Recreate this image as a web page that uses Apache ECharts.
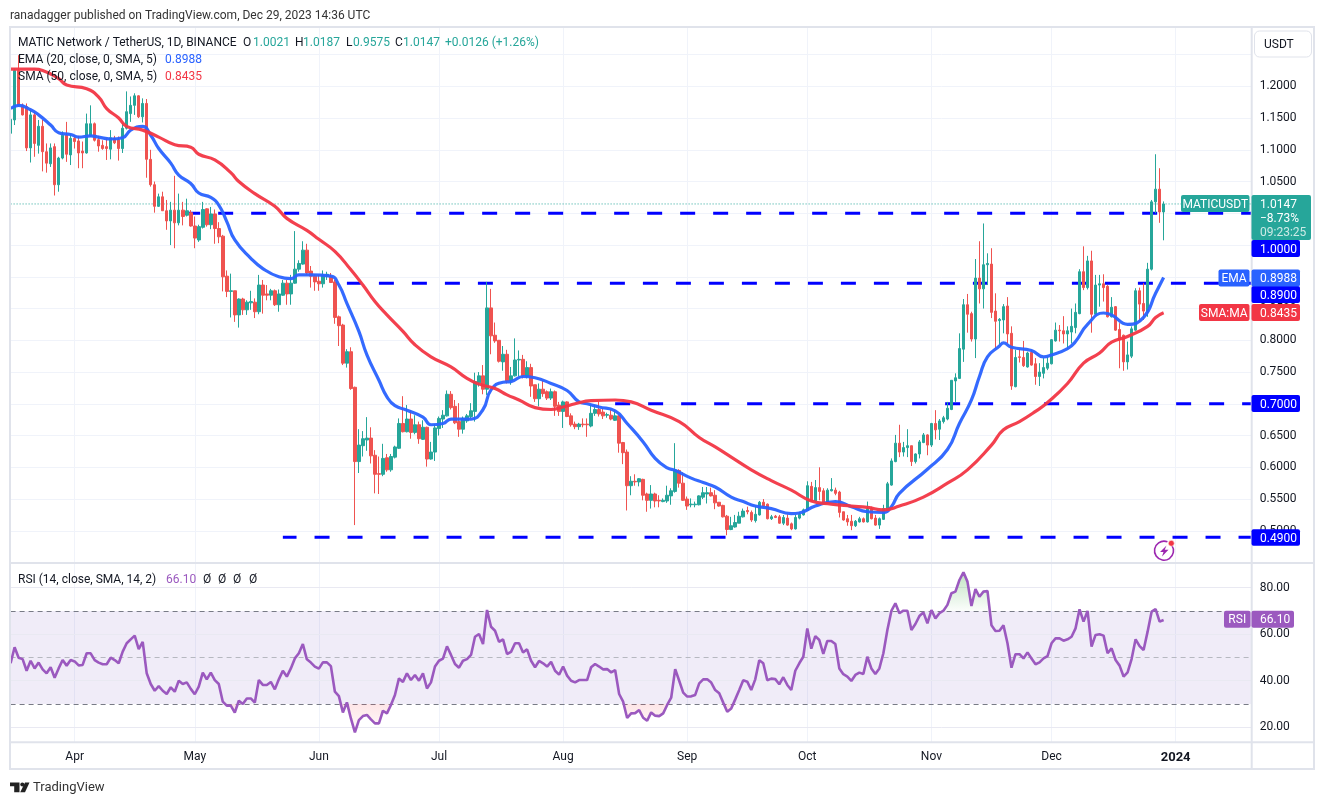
<!DOCTYPE html>
<html><head><meta charset="utf-8">
<style>html,body{margin:0;padding:0;background:#fff}#c{width:1325px;height:805px}</style>
<script src="https://cdn.jsdelivr.net/npm/echarts@6/dist/echarts.min.js"></script>
</head><body><div id="c"></div>
<script>
// Candles are [open, close, low, high]
const candlesA=[[1.126,1.148,1.100,1.157],[1.147,1.225,1.139,1.228],[1.225,1.170,1.168,1.249],[1.170,1.155,1.154,1.173],[1.168,1.103,1.098,1.173],[1.103,1.155,1.080,1.163],[1.155,1.110,1.089,1.160],[1.107,1.137,1.094,1.147],[1.137,1.097,1.066,1.147],[1.097,1.079,1.064,1.110],[1.078,1.103,1.073,1.110],[1.105,1.045,1.028,1.110],[1.045,1.087,1.034,1.089],[1.087,1.123,1.085,1.129],[1.123,1.093,1.081,1.144],[1.092,1.118,1.076,1.125],[1.118,1.113,1.102,1.123],[1.114,1.095,1.071,1.122],[1.098,1.095,1.071,1.113],[1.095,1.141,1.094,1.157],[1.122,1.141,1.120,1.170],[1.141,1.115,1.113,1.143],[1.116,1.106,1.097,1.122],[1.107,1.102,1.100,1.115],[1.105,1.102,1.084,1.118],[1.101,1.119,1.085,1.131],[1.118,1.111,1.109,1.122],[1.116,1.102,1.083,1.121],[1.102,1.134,1.095,1.142],[1.134,1.160,1.132,1.192],[1.157,1.170,1.144,1.184],[1.170,1.185,1.155,1.189],[1.185,1.152,1.150,1.186],[1.152,1.173,1.143,1.181],[1.173,1.085,1.056,1.180],[1.085,1.045,1.042,1.100],[1.045,1.011,1.001,1.050],[1.011,1.026,1.010,1.031],[1.026,1.004,1.004,1.034],[1.004,0.988,0.974,1.021],[0.988,1.005,0.950,1.018],[1.005,0.985,0.945,1.059],[0.985,1.005,0.981,1.031],[1.005,0.995,0.981,1.018],[0.997,1.004,0.995,1.023],[1.001,0.980,0.979,1.005],[0.980,0.961,0.945,0.995],[0.958,0.979,0.955,0.982],[0.978,1.006,0.976,1.018]];
const candlesB=[[1.007,0.982,0.979,1.008],[0.982,0.999,0.975,1.010],[0.999,0.976,0.952,1.006],[0.976,0.963,0.953,0.986],[0.964,0.900,0.877,0.966],[0.901,0.877,0.868,0.910],[0.877,0.878,0.836,0.905],[0.878,0.840,0.829,0.878],[0.840,0.865,0.820,0.866],[0.865,0.848,0.840,0.867],[0.848,0.860,0.840,0.863],[0.859,0.861,0.848,0.878],[0.860,0.845,0.835,0.866],[0.845,0.887,0.841,0.903],[0.887,0.871,0.842,0.895],[0.873,0.871,0.863,0.887],[0.871,0.878,0.863,0.881],[0.878,0.856,0.854,0.880],[0.856,0.873,0.845,0.880],[0.871,0.890,0.870,0.895],[0.890,0.873,0.856,0.895],[0.873,0.890,0.856,0.903],[0.890,0.912,0.889,0.972],[0.912,0.921,0.908,0.926],[0.920,0.942,0.919,0.956],[0.942,0.906,0.903,0.952],[0.909,0.901,0.883,0.917],[0.901,0.892,0.878,0.904],[0.893,0.889,0.878,0.903],[0.889,0.903,0.883,0.910],[0.901,0.904,0.895,0.908],[0.900,0.891,0.891,0.906],[0.892,0.836,0.826,0.895],[0.837,0.823,0.791,0.839],[0.824,0.764,0.761,0.826],[0.764,0.782,0.757,0.786],[0.782,0.724,0.722,0.789],[0.726,0.609,0.509,0.727],[0.609,0.635,0.591,0.660],[0.634,0.645,0.617,0.657],[0.643,0.646,0.626,0.679],[0.646,0.618,0.606,0.663],[0.619,0.589,0.559,0.627],[0.590,0.589,0.558,0.617],[0.589,0.614,0.586,0.637],[0.615,0.596,0.593,0.621],[0.596,0.617,0.593,0.621],[0.616,0.632,0.614,0.634],[0.630,0.669,0.629,0.677]];
const candlesC=[[0.669,0.656,0.655,0.712],[0.656,0.676,0.655,0.698],[0.676,0.655,0.645,0.690],[0.655,0.667,0.652,0.682],[0.667,0.645,0.637,0.672],[0.644,0.663,0.643,0.674],[0.663,0.613,0.601,0.664],[0.613,0.624,0.612,0.640],[0.624,0.662,0.610,0.668],[0.661,0.677,0.650,0.680],[0.676,0.682,0.662,0.690],[0.681,0.715,0.680,0.721],[0.715,0.694,0.691,0.720],[0.696,0.670,0.668,0.706],[0.672,0.660,0.648,0.701],[0.660,0.677,0.653,0.680],[0.673,0.681,0.670,0.684],[0.680,0.689,0.677,0.701],[0.688,0.735,0.672,0.749],[0.733,0.744,0.727,0.750],[0.744,0.723,0.715,0.761],[0.723,0.851,0.714,0.892],[0.851,0.807,0.778,0.881],[0.808,0.799,0.796,0.828],[0.800,0.767,0.765,0.800],[0.766,0.778,0.752,0.791],[0.778,0.736,0.732,0.785],[0.736,0.744,0.730,0.758],[0.744,0.769,0.743,0.803],[0.769,0.770,0.743,0.784],[0.770,0.744,0.740,0.777],[0.743,0.757,0.740,0.767],[0.757,0.728,0.711,0.763],[0.730,0.708,0.703,0.730],[0.708,0.723,0.696,0.732],[0.723,0.716,0.711,0.737],[0.719,0.709,0.706,0.721],[0.709,0.719,0.706,0.724],[0.719,0.696,0.681,0.721],[0.698,0.688,0.681,0.703]];
const candlesD=[[0.688,0.703,0.662,0.705],[0.703,0.680,0.679,0.704],[0.681,0.667,0.664,0.685],[0.668,0.664,0.660,0.672],[0.664,0.668,0.659,0.670],[0.668,0.667,0.663,0.677],[0.668,0.667,0.648,0.677],[0.665,0.685,0.663,0.698],[0.685,0.691,0.681,0.698],[0.691,0.684,0.680,0.703],[0.687,0.681,0.676,0.693],[0.682,0.683,0.678,0.686],[0.682,0.676,0.674,0.691],[0.674,0.681,0.673,0.690],[0.681,0.638,0.623,0.682],[0.639,0.623,0.605,0.640],[0.624,0.571,0.532,0.628],[0.571,0.578,0.556,0.586],[0.578,0.577,0.571,0.589],[0.577,0.582,0.570,0.583],[0.581,0.556,0.548,0.582],[0.558,0.548,0.530,0.560],[0.548,0.558,0.535,0.572],[0.558,0.547,0.537,0.560],[0.548,0.547,0.537,0.556],[0.546,0.548,0.545,0.551],[0.547,0.556,0.544,0.571],[0.555,0.563,0.541,0.567],[0.562,0.596,0.560,0.638],[0.595,0.575,0.568,0.597],[0.575,0.548,0.547,0.592],[0.550,0.539,0.533,0.554],[0.541,0.542,0.537,0.551],[0.541,0.542,0.537,0.546],[0.541,0.555,0.540,0.556],[0.553,0.560,0.550,0.569],[0.558,0.560,0.543,0.569],[0.560,0.555,0.554,0.568],[0.556,0.544,0.534,0.564],[0.545,0.539,0.538,0.545]];
const candlesE=[[0.540,0.522,0.521,0.541],[0.523,0.502,0.493,0.525],[0.502,0.508,0.501,0.522],[0.506,0.513,0.505,0.525],[0.512,0.523,0.512,0.530],[0.522,0.531,0.521,0.535],[0.532,0.530,0.526,0.538],[0.529,0.517,0.514,0.532],[0.516,0.526,0.513,0.538],[0.525,0.545,0.524,0.547],[0.545,0.539,0.537,0.550],[0.542,0.519,0.518,0.543],[0.519,0.522,0.517,0.525],[0.523,0.521,0.520,0.525],[0.522,0.512,0.511,0.525],[0.512,0.521,0.509,0.525],[0.520,0.509,0.508,0.526],[0.511,0.503,0.501,0.513],[0.503,0.521,0.502,0.525],[0.520,0.526,0.518,0.530],[0.525,0.533,0.524,0.535],[0.532,0.571,0.531,0.578],[0.570,0.547,0.546,0.577],[0.547,0.568,0.546,0.580],[0.568,0.562,0.548,0.600],[0.563,0.545,0.543,0.567],[0.545,0.564,0.543,0.567],[0.563,0.565,0.562,0.583],[0.564,0.559,0.556,0.568],[0.561,0.529,0.521,0.563],[0.530,0.517,0.516,0.530],[0.519,0.514,0.508,0.525],[0.515,0.508,0.501,0.525],[0.508,0.515,0.506,0.517],[0.514,0.519,0.513,0.522],[0.519,0.514,0.513,0.521],[0.514,0.535,0.513,0.546],[0.535,0.519,0.518,0.538],[0.520,0.509,0.508,0.525],[0.509,0.519,0.503,0.521],[0.518,0.535,0.517,0.541],[0.534,0.574,0.533,0.577],[0.572,0.610,0.571,0.614],[0.609,0.638,0.608,0.651],[0.638,0.624,0.616,0.667]];
const candlesF=[[0.624,0.631,0.617,0.640],[0.631,0.634,0.616,0.660],[0.634,0.609,0.602,0.634],[0.609,0.621,0.606,0.622],[0.621,0.640,0.614,0.643],[0.639,0.651,0.638,0.654],[0.651,0.635,0.619,0.652],[0.635,0.669,0.632,0.670],[0.669,0.659,0.644,0.690],[0.660,0.673,0.643,0.676],[0.672,0.678,0.669,0.681],[0.676,0.693,0.674,0.703],[0.691,0.737,0.690,0.737],[0.736,0.741,0.703,0.748],[0.740,0.787,0.739,0.811],[0.786,0.856,0.766,0.865],[0.856,0.841,0.812,0.873],[0.842,0.802,0.798,0.845],[0.802,0.898,0.772,0.928],[0.898,0.881,0.858,0.956],[0.881,0.919,0.850,0.984],[0.919,0.921,0.887,0.937],[0.920,0.844,0.835,0.945],[0.846,0.830,0.787,0.874],[0.831,0.833,0.793,0.835],[0.832,0.853,0.811,0.857],[0.854,0.810,0.795,0.868],[0.811,0.728,0.722,0.822],[0.727,0.773,0.726,0.785],[0.774,0.773,0.765,0.786],[0.773,0.760,0.758,0.799],[0.758,0.780,0.757,0.782],[0.781,0.761,0.760,0.785],[0.763,0.743,0.730,0.772],[0.743,0.750,0.728,0.764],[0.748,0.757,0.740,0.772],[0.756,0.764,0.753,0.774],[0.763,0.801,0.762,0.802],[0.799,0.816,0.798,0.828],[0.816,0.815,0.798,0.824],[0.815,0.810,0.795,0.838],[0.810,0.815,0.786,0.822],[0.813,0.822,0.795,0.850],[0.820,0.844,0.811,0.858],[0.842,0.908,0.841,0.912],[0.908,0.883,0.879,0.948],[0.883,0.925,0.880,0.933],[0.925,0.841,0.812,0.941],[0.841,0.887,0.840,0.903],[0.887,0.889,0.853,0.903],[0.889,0.883,0.861,0.904],[0.885,0.837,0.836,0.887],[0.837,0.852,0.836,0.868],[0.853,0.816,0.815,0.854],[0.817,0.801,0.756,0.827],[0.808,0.766,0.752,0.809],[0.766,0.777,0.754,0.798],[0.775,0.818,0.772,0.822],[0.816,0.878,0.815,0.882],[0.878,0.857,0.829,0.883],[0.858,0.846,0.832,0.890],[0.845,0.912,0.837,0.922],[0.912,1.018,0.910,1.021],[1.018,1.038,1.000,1.093],[1.038,1.0021,0.985,1.071],[1.0021,1.0147,0.9575,1.0187]];

// Moving averages as [bar number, value]
const emaPoints=[[0,1.165],[2,1.170],[5,1.163],[7,1.155],[10,1.139],[12,1.127],[15,1.124],[17,1.120],[20,1.122],[22,1.120],[25,1.117],[28,1.119],[30,1.131],[33,1.137],[35,1.123],[37,1.102],[40,1.079],[42,1.060],[45,1.047],[47,1.032],[50,1.025],[52,1.013],[54,0.987],[56,0.958],[60,0.929],[63,0.913],[67,0.900],[70,0.897],[72,0.903],[75,0.903],[80,0.901],[82,0.887],[84,0.858],[87,0.814],[89,0.777],[92,0.737],[94,0.711],[96,0.697],[99,0.690],[103,0.679],[105,0.667],[108,0.669],[110,0.676],[115,0.676],[118,0.691],[120,0.722],[123,0.734],[125,0.735],[128,0.743],[131,0.741],[135,0.732],[139,0.721],[142,0.703],[144,0.700],[147,0.695],[151,0.689],[154,0.669],[158,0.640],[161,0.614],[164,0.599],[166,0.595],[170,0.583],[173,0.576],[176,0.569],[180,0.553],[183,0.546],[186,0.539],[190,0.535],[195,0.527],[197,0.528],[201,0.539],[206,0.546],[210,0.538],[214,0.530],[218,0.529],[220,0.538],[222,0.559],[229,0.597],[234,0.628],[237,0.669],[240,0.706],[242,0.743],[244,0.774],[247,0.791],[248,0.796],[250,0.789],[255,0.784],[258,0.774],[260,0.777],[264,0.787],[266,0.798],[269,0.825],[273,0.843],[275,0.840],[279,0.825],[283,0.836],[286,0.874],[288,0.8988]];
const smaPoints=[[0,1.227],[6,1.227],[8,1.225],[12,1.212],[14,1.202],[19,1.196],[22,1.183],[24,1.165],[27,1.150],[29,1.137],[33,1.131],[37,1.120],[41,1.108],[45,1.104],[47,1.093],[51,1.084],[55,1.064],[57,1.050],[61,1.031],[66,1.011],[69,0.992],[74,0.973],[77,0.959],[81,0.940],[85,0.911],[88,0.887],[91,0.861],[94,0.840],[98,0.814],[101,0.793],[105,0.774],[110,0.758],[114,0.740],[117,0.731],[121,0.724],[124,0.714],[127,0.706],[131,0.694],[135,0.691],[138,0.695],[141,0.700],[145,0.705],[151,0.706],[155,0.703],[160,0.690],[167,0.672],[172,0.647],[176,0.632],[180,0.616],[185,0.596],[190,0.579],[195,0.564],[200,0.547],[205,0.542],[210,0.539],[214,0.537],[218,0.533],[222,0.539],[228,0.553],[234,0.575],[239,0.596],[245,0.635],[248,0.659],[252,0.672],[256,0.688],[259,0.702],[264,0.732],[268,0.764],[272,0.780],[275,0.797],[279,0.806],[284,0.822],[286,0.836],[288,0.8435]];
const rsiA=[47.5,54.4,49.9,49.3,44.3,48.6,45.3,47.8,44.9,43.2,45.8,41.3,45.3,48.9,46.5,48.9,48.3,46.6,46.8,51.8,51.8,48.9,47.8,47.1,47.1,49.9,48.9,47.5,52.5,56.1,57.8,59.4,53.6,56.7,43.2,38.6,35.7,37.7,35.7,34.3,37.2,35.3,40.0,38.6,39.3,36.5,34.2,37.5,43.5,40.6,43.5,40.3,38.6,31.0,29.3,29.3,26.3,31.4,30.0,32.4,32.4,30.6,40.3,38.2,38.2,39.5,36.3,40.6,44.3,41.8,45.3,49.6,51.8,55.8,49.2,47.8,46.1,45.2,47.9,47.9,46.3,35.3,33.4,26.4,30.7,23.8,17.8,23.1,24.8,25.3,23.4,21.7,21.7,27.1,26.0,29.6,33.9];
const rsiB=[41.0,39.5,43.2,40.3,42.5,40.0,43.2,36.7,39.3,46.1,48.6,49.5,54.8,51.1,47.2,45.6,48.6,49.3,51.1,58.9,60.1,55.8,70.4,63.2,61.5,56.7,57.8,51.5,52.4,56.1,56.1,52.1,53.5,48.6,45.8,48.5,47.5,46.1,48.1,44.3,42.6,46.1,42.2,40.0,39.3,40.3,40.3,40.3,45.8,47.2,46.1,44.9,45.0,43.6,44.6,34.3,31.0,24.0,26.0,26.1,27.4,24.1,22.8,26.4,25.0,24.8,26.0,29.6,32.7,45.0,40.0,34.9,33.2,33.3,33.9,38.9,40.6,40.6,39.2,36.0,34.6,30.6,26.7,28.1,32.0,36.0,40.2,39.6,36.0,40.6,48.8,47.5,40.2,40.9,40.7,38.5];
const rsiC=[41.5,38.2,36.0,44.3,47.5,50.3,62.5,53.8,59.2,57.5,51.5,57.1,57.1,55.8,45.3,42.8,41.8,39.9,42.5,43.5,42.9,50.3,45.3,42.9,45.3,51.8,61.8,70.0,73.3,69.0,70.1,70.1,61.8,64.4,67.8,69.4,64.7,70.4,66.8,69.0,70.1,72.6,77.6,78.3,83.3,86.6,82.6,72.1,79.4,76.1,78.3,78.6,63.8,61.4,61.5,63.8,56.1,45.6,51.4,51.4,49.6,52.2,49.6,47.1,47.9,49.6,50.6,56.1,58.2,58.2,57.2,57.8,58.9,62.5,70.7,65.4,70.0,54.7,59.7,60.0,59.4,51.8,53.9,48.9,46.5,41.8,43.6,49.3,57.8,54.9,53.2,61.1,69.7,70.8,65.4,66.1];

const levelValues=[1.0,0.89,0.70,0.49];
const levelStartBars=[44,84,151,68];
const levelDashShift=[1.6,1,0,1.3];
const lastClose=1.0147;
const monthDates=['2023-04-01','2023-05-01','2023-06-01','2023-07-01','2023-08-01','2023-09-01','2023-10-01','2023-11-01','2023-12-01','2024-01-01'];
const monthLabels=['Apr','May','Jun','Jul','Aug','Sep','Oct','Nov','Dec','2024'];
const rsiTicks=[20,40,60,80];
const rsiBands=[70,50,30];

const candles=[...candlesA,...candlesB,...candlesC,...candlesD,...candlesE,...candlesF];
const rsi=[...rsiA,...rsiB,...rsiC];
const dates=[];
for(let i=0;i<311;i++){dates.push(new Date(Date.UTC(2023,2,16+i)).toISOString().slice(0,10));}
const FONT='Roboto,sans-serif';
const INK='#131722';
const GRID='#f0f3fa';
const FRAME='#e0e3eb';
const isMonth=(i,v)=>monthDates.includes(v);
const pick=p=>p.map(([i,v])=>[dates[i],v]);

function T(x,y,text,fill,size,extra){return Object.assign({type:'text',z:120,x:x,y:y+1,style:{text:text,fill:fill,font:(size||12)+'px '+FONT,textVerticalAlign:'middle'}},extra||{});}
function R(x,y,w,h,fill,r){return {type:'rect',z:110,shape:{x:x,y:y,width:w,height:h,r:r===undefined?2:r},style:{fill:fill}};}
function tagLeft(x,y,w,h,fill,text){return [R(x,y,w,h,fill),{type:'text',z:120,x:x+w/2,y:y+h/2+1,style:{text:text,fill:'#fff',font:'12px '+FONT,textAlign:'center',textVerticalAlign:'middle'}}];}
function tagVal(y,h,fill,text,w){return [R(1251.5,y,w||48.5,h,fill),T(1260,y+h/2,text,'#fff',12)];}

const UP='#26a69a',DN='#ef5350',BLUE='#0000ff',EMA='#2962ff',SMA='#f23645',PUR='#9b59bf';
const graphics=[
 {type:'rect',z:99,shape:{x:0,y:18,width:1325,height:8.5},style:{fill:'#fff'}},
 {type:'rect',z:100,shape:{x:10,y:27,width:1304,height:742},style:{fill:'none',stroke:FRAME,lineWidth:2}},
 {type:'line',z:100,shape:{x1:1251.7,y1:27,x2:1251.7,y2:769},style:{stroke:FRAME,lineWidth:2}},
 {type:'line',z:100,shape:{x1:10,y1:563,x2:1314,y2:563},style:{stroke:FRAME,lineWidth:2}},
 {type:'line',z:100,shape:{x1:10,y1:742.3,x2:1314,y2:742.3},style:{stroke:FRAME,lineWidth:2}},
 T(10,15,'ranadagger published on TradingView.com, Dec 29, 2023 14:36 UTC','#333',12),
 T(18,42,'MATIC Network / TetherUS, 1D, BINANCE',INK,12),
 T(243,42,'O',INK,12),T(253,42,'1.0021',UP,12),
 T(295,42,'H',INK,12),T(303,42,'1.0187',UP,12),
 T(346,42,'L',INK,12),T(353,42,'0.9575',UP,12),
 T(395,42,'C',INK,12),T(403,42,'1.0147',UP,12),
 T(445,42,'+0.0126 (+1.26%)',UP,12),
 T(18,59,'EMA (20, close, 0, SMA, 5)',INK,12),T(165,59,'0.8988',EMA,12),
 T(18,76,'SMA (50, close, 0, SMA, 5)',INK,12),T(165,76,'0.8435',SMA,12),
 T(18,579,'RSI (14, close, SMA, 14, 2)',INK,12),T(166,579,'66.10',PUR,12),
 T(203,579,'Ø',INK,12),T(218,579,'Ø',INK,12),T(233,579,'Ø',INK,12),T(249,579,'Ø',INK,12),
 {type:'rect',z:110,shape:{x:1254.5,y:31,width:57,height:26,r:5},style:{fill:'#fff',stroke:FRAME,lineWidth:1}},
 T(1264,44,'USDT',INK,12),
 ...tagLeft(1181,195,68.5,17,UP,'MATICUSDT'),
 R(1251.5,195,59.5,45,UP),
 T(1260,203.5,'1.0147','#fff',12),T(1260,217.5,'−8.73%','#fff',12),T(1260,231.5,'09:23:25','#cdeae6',12),
 ...tagVal(240,17,BLUE,'1.0000'),
 ...tagVal(286,17,BLUE,'0.8900'),
 ...tagLeft(1218.5,269.5,31,17,EMA,'EMA'),
 ...tagVal(269.5,17,EMA,'0.8988'),
 ...tagLeft(1199,304,50.5,17,SMA,'SMA:MA'),
 ...tagVal(304,17,SMA,'0.8435'),
 ...tagVal(395,17,BLUE,'0.7000'),
 ...tagVal(529.3,16.5,BLUE,'0.4900'),
 ...tagLeft(1224,610.7,26.5,17,PUR,'RSI'),
 ...tagVal(610.7,17,PUR,'66.10',42.5),
 // alert icon
 {type:'arc',z:120,shape:{cx:1164,cy:550.7,r:9.5,startAngle:-0.6,endAngle:-1.2,clockwise:true},style:{fill:'none',stroke:'#9c27b0',lineWidth:1.6}},
 {type:'polygon',z:120,shape:{points:[[1166.5,545.5],[1160,552],[1163.5,552],[1162,556.5],[1168.5,549.7],[1164.7,549.7]]},style:{fill:'#9c27b0'}},
 {type:'circle',z:121,shape:{cx:1171.3,cy:543.3,r:3},style:{fill:'#f23645',stroke:'#fff',lineWidth:0.6}},
 // footer logo
 {type:'polygon',z:120,shape:{points:[[10,782.5],[19.5,782.5],[19.5,792.3],[14.2,792.3],[14.2,786.3],[10,786.3]]},style:{fill:'#222'}},
 {type:'circle',z:120,shape:{cx:22.3,cy:784.5,r:2},style:{fill:'#222'}},
 {type:'polygon',z:120,shape:{points:[[25,782.5],[29.5,782.5],[25,792.3],[20.2,792.3]]},style:{fill:'#222'}},
 T(33,786.5,'TradingView','#333',13)
];

const levelSeries=levelValues.map((v,k)=>({
  type:'line',xAxisIndex:0,yAxisIndex:0,z:1,silent:true,symbol:'none',animation:false,
  data:[[dates[levelStartBars[k]],v],[dates[310],v]],
  lineStyle:{color:BLUE,width:3,type:[15,18],dashOffset:levelDashShift[k]}
}));

const option={
 animation:false,backgroundColor:'#fff',
 textStyle:{fontFamily:FONT},
 axisPointer:{show:false},
 grid:[
  {left:10.6,right:73.3,top:22.8,height:539.75,containLabel:false},
  {left:10.6,right:73.3,top:563,height:179.3,containLabel:false}
 ],
 xAxis:[
  {type:'category',gridIndex:0,data:dates,boundaryGap:false,
   axisLine:{show:false},axisTick:{show:false},axisLabel:{show:false},
   splitLine:{show:true,interval:isMonth,lineStyle:{color:GRID,width:1}}},
  {type:'category',gridIndex:1,data:dates,boundaryGap:false,
   axisLine:{show:false},axisTick:{show:false},
   splitLine:{show:true,interval:isMonth,lineStyle:{color:GRID,width:1}},
   axisLabel:{show:true,interval:isMonth,margin:9,fontSize:12,color:INK,fontFamily:FONT,hideOverlap:false,
     formatter:v=>{const i=monthDates.indexOf(v);if(i<0)return '';return monthLabels[i]==='2024'?'{b|2024}':monthLabels[i];},
     rich:{b:{fontWeight:'bold',fontSize:13,color:INK,fontFamily:FONT}}}}
 ],
 yAxis:[
  {type:'value',gridIndex:0,position:'right',min:0.45,max:1.30,interval:0.05,scale:true,
   axisLine:{show:false},axisTick:{show:false},
   splitLine:{show:true,lineStyle:{color:GRID,width:1}},
   axisLabel:{margin:8,fontSize:12,color:INK,fontFamily:FONT,showMinLabel:false,showMaxLabel:false,padding:[2,0,0,0],
     formatter:v=>(v>1.21||v<0.49)?'':v.toFixed(4)}},
  {type:'value',gridIndex:1,position:'right',min:13.55,max:90.6,
   axisLine:{show:false},axisTick:{show:false},splitLine:{show:false},
   axisLabel:{margin:8,fontSize:12,color:INK,fontFamily:FONT,customValues:rsiTicks,padding:[2,0,0,0],formatter:v=>v.toFixed(2)}}
 ],
 series:[
  ...levelSeries,
  {type:'line',xAxisIndex:0,yAxisIndex:0,z:1,silent:true,symbol:'none',
   data:[[dates[0],lastClose],[dates[310],lastClose]],
   lineStyle:{color:UP,width:1,type:[1,2]}},
  {type:'candlestick',name:'MATICUSDT',xAxisIndex:0,yAxisIndex:0,z:3,barWidth:3,data:candles,clip:true,
   itemStyle:{color:UP,color0:DN,borderColor:UP,borderColor0:DN,borderWidth:1}},
  {type:'line',name:'EMA',xAxisIndex:0,yAxisIndex:0,z:4,symbol:'none',smooth:0.5,data:pick(emaPoints),
   lineStyle:{color:EMA,width:3.2,opacity:0.95}},
  {type:'line',name:'SMA',xAxisIndex:0,yAxisIndex:0,z:5,symbol:'none',smooth:0.5,data:pick(smaPoints),
   lineStyle:{color:SMA,width:3.2,opacity:0.95}},
  // RSI pane
  {type:'line',xAxisIndex:1,yAxisIndex:1,z:3,symbol:'none',silent:true,data:rsi.map(v=>Math.max(v,70)),
   lineStyle:{width:0,opacity:0},
   areaStyle:{origin:70,opacity:1,color:{type:'linear',x:0,y:0,x2:0,y2:1,colorStops:[{offset:0,color:'rgba(76,175,80,0.35)'},{offset:1,color:'rgba(76,175,80,0.02)'}]}}},
  {type:'line',xAxisIndex:1,yAxisIndex:1,z:3,symbol:'none',silent:true,data:rsi.map(v=>Math.min(v,30)),
   lineStyle:{width:0,opacity:0},
   areaStyle:{origin:30,opacity:1,color:{type:'linear',x:0,y:0,x2:0,y2:1,colorStops:[{offset:0,color:'rgba(242,54,69,0.13)'},{offset:1,color:'rgba(242,54,69,0.01)'}]}}},
  {type:'line',name:'RSI',xAxisIndex:1,yAxisIndex:1,z:4,symbol:'none',data:rsi,
   lineStyle:{color:PUR,width:2.6},
   markArea:{silent:true,z:1,itemStyle:{color:'rgba(126,87,194,0.115)'},data:[[{yAxis:rsiBands[2]},{yAxis:rsiBands[0]}]]},
   markLine:{silent:true,symbol:'none',label:{show:false},z:2,data:[
     ...rsiTicks.map(t=>({yAxis:t,lineStyle:{color:'#e9e9f2',width:1,type:'solid'}})),
     {yAxis:rsiBands[0],lineStyle:{color:'#787b86',width:1,type:[5,4]}},
     {yAxis:rsiBands[1],lineStyle:{color:'#b6b8c0',width:1,type:[5,4]}},
     {yAxis:rsiBands[2],lineStyle:{color:'#787b86',width:1,type:[5,4]}}
   ]}}
 ],
 graphic:graphics
};
const chart=echarts.init(document.getElementById('c'),null,{renderer:'canvas'});
chart.setOption(option);
</script></body></html>
